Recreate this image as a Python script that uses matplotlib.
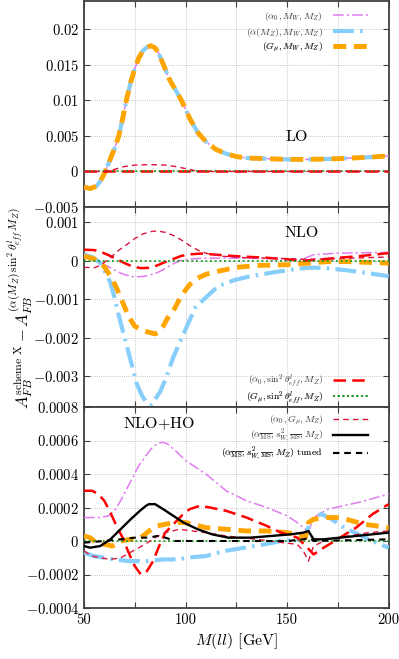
import numpy as np
import matplotlib
matplotlib.use("Agg")
import matplotlib.pyplot as plt
from matplotlib.lines import Line2D

plt.rcParams['mathtext.fontset'] = 'cm'
plt.rcParams['font.family'] = 'serif'
plt.rcParams['font.serif'] = ['cmr10', 'DejaVu Serif']
plt.rcParams['axes.formatter.use_mathtext'] = True

# ---------------- DATA ----------------
# LO panel
lo_x = [50, 53, 56, 58, 60.5, 63, 65, 67, 69, 71, 73, 75, 77, 79, 81, 83, 85, 87, 89, 92, 95, 98,
        102, 106, 110, 115, 120, 125, 130, 140, 150, 160, 175, 190, 200]
lo_alpha0_mw = [-0.0022, -0.0024, -0.0021, -0.0014, 0.0, 0.0018, 0.0032, 0.0049, 0.0074, 0.0102, 0.0126,
                0.0145, 0.0160, 0.0170, 0.0175, 0.0177, 0.0174, 0.0165, 0.0151, 0.0130, 0.0115, 0.0100,
                0.0075, 0.0055, 0.0042, 0.0031, 0.0025, 0.0021, 0.0019, 0.0018, 0.0017, 0.0017, 0.0018,
                0.0020, 0.0022]
lo_alphamz_mw = list(lo_alpha0_mw)
lo_gmu_mw = list(lo_alpha0_mw)
lo_zero_x = [50, 200]
lo_alpha0_sw = [0.0, 0.0]
lo_gmu_sw = [0.0, 0.0]
lo_a0gmu_x = [50, 60, 65, 70, 75, 80, 85, 90, 95, 100, 105, 110, 200]
lo_a0gmu = [0.0, 0.0, 0.0003, 0.0007, 0.0009, 0.00095, 0.00095, 0.0009, 0.0007, 0.0004, 0.0001, 0.0, 0.0]

# NLO panel
nlo_blue_x = [50, 54, 58, 61, 63, 65, 67, 69, 72, 74, 76, 78.5, 81, 83, 85, 87.5, 90, 92, 94, 96.5, 99,
              101.5, 105, 110, 116, 124, 132, 142, 152, 160, 168, 180, 190, 200]
nlo_alphamz_mw = [0.00016, 0.0001, -0.00005, -0.00035, -0.00057, -0.00095, -0.0014, -0.0018, -0.0024,
                  -0.0028, -0.0032, -0.0035, -0.0037, -0.00375, -0.0036, -0.0034, -0.0031, -0.0028,
                  -0.0025, -0.0022, -0.0019, -0.0016, -0.0012, -0.00095, -0.00066, -0.0005, -0.0004,
                  -0.00031, -0.00023, -0.00018, -0.00018, -0.00025, -0.00032, -0.0004]
nlo_orange_x = [50, 55, 60, 63, 66, 68, 70, 72, 75, 80, 85, 87, 89, 91, 94, 98, 102, 106, 110, 116,
                125, 135, 150, 160, 170, 180, 190, 200]
nlo_gmu_mw = [0.00012, 0.00005, -0.00015, -0.0004, -0.0007, -0.00095, -0.0012, -0.00145, -0.0017,
              -0.00183, -0.0019, -0.00185, -0.0017, -0.0015, -0.0013, -0.0009, -0.00062, -0.00045,
              -0.00035, -0.00027, -0.00017, -0.00012, -0.0001, -0.00006, -0.00002, -0.00002,
              -0.00004, -0.00006]
nlo_violet_x = [50, 55, 58, 62, 66, 70, 75, 80, 85, 89, 93, 97, 102, 110, 130, 150, 155, 158, 163, 175, 200]
nlo_alpha0_mw = [0.00012, 0.00003, -0.00005, -0.00015, -0.00027, -0.00036, -0.00042, -0.0004, -0.00033,
                 -0.00023, -0.0001, 0.0, 0.00005, 0.00007, 0.00007, 0.00005, 0.0, 0.00005, 0.00016,
                 0.0002, 0.00022]
nlo_red_x = [50, 55, 58, 62, 66, 70, 74, 78, 82, 86, 90, 94, 98, 102, 108, 115, 125, 140, 150, 157,
             165, 175, 185, 200]
nlo_alpha0_sw = [0.00029, 0.00028, 0.00024, 0.00015, 0.00005, -0.00006, -0.00015, -0.00019, -0.00018,
                 -0.00012, -0.00003, 0.00005, 0.00013, 0.00017, 0.00019, 0.00016, 0.00012, 0.00008,
                 0.00004, 0.0, 0.00003, 0.00008, 0.00012, 0.0002]
nlo_gmu_sw = [0.0, 0.0]
nlo_crim_x = [50, 55, 58, 61, 64, 67, 71, 75, 79, 83, 86, 90, 94, 98, 102, 106, 110, 118, 130, 150,
              160, 175, 200]
nlo_a0gmu = [-0.00017, -0.00018, -0.00012, 0.0, 0.00013, 0.00027, 0.00042, 0.00058, 0.0007, 0.00076,
             0.00078, 0.00074, 0.00066, 0.00054, 0.0004, 0.00028, 0.0002, 0.00012, 0.00008, 0.00006,
             0.00004, 0.00006, 0.0001]

# NLO+HO panel
ho_violet_x = [50, 55, 58, 62, 65, 68, 71, 74, 77, 80, 83, 86, 88.5, 91, 95, 100, 105, 110, 120, 130,
               140, 150, 155, 159, 161, 163, 170, 185, 200]
ho_alpha0_mw = [0.00014, 0.00014, 0.00014, 0.00015, 0.00018, 0.00024, 0.00031, 0.00038, 0.00045, 0.0005,
                0.00055, 0.00058, 0.00059, 0.00058, 0.00054, 0.00048, 0.00044, 0.0004, 0.0003, 0.00024,
                0.0002, 0.00015, 0.00011, 0.00007, 0.00007, 0.00014, 0.00019, 0.00023, 0.00028]
ho_blue_x = [50, 55, 60, 65, 72, 81, 89, 97, 100, 110, 119, 129, 139, 147, 156, 159, 161, 164, 167,
             172, 178, 185, 192, 200]
ho_alphamz_mw = [-0.00007, -0.00009, -0.0001, -0.00011, -0.00012, -0.00012, -0.00011, -0.00011, -0.0001,
                 -0.00009, -0.00006, -0.00004, -0.00002, 0.0, 0.00001, 0.00003, 0.0001, 0.00015,
                 0.00016, 0.00013, 0.00008, 0.00004, 0.0, -0.00004]
ho_orange_x = [50, 53, 56, 60, 64, 68, 73, 78, 82, 86, 90, 95, 100, 110, 120, 130, 140, 150, 155, 159,
               160.5, 163, 170, 176, 182, 188, 194, 200]
ho_gmu_mw = [0.00003, 0.00002, -0.00001, -0.00002, -0.00003, 0.0, 0.00001, 0.00002, 0.00006, 0.00009,
             0.0001, 0.00011, 0.00011, 0.00008, 0.00007, 0.00006, 0.00006, 0.00005, 0.00004, 0.00002,
             0.00011, 0.00013, 0.00014, 0.00014, 0.00012, 0.0001, 0.00009, 0.00008]
ho_red_x = [50, 54, 57, 60, 63, 66, 69, 72, 75, 78, 81, 84, 87, 90, 94, 98, 102, 107, 112, 120, 130,
            140, 147, 155, 160, 163, 168, 176, 184, 192, 200]
ho_alpha0_sw = [0.0003, 0.0003, 0.00028, 0.00024, 0.00017, 0.00009, 0.00002, -0.00007, -0.00015, -0.0002,
                -0.00018, -0.00012, -0.00003, 0.00005, 0.0001, 0.00015, 0.00019, 0.00021, 0.0002,
                0.00018, 0.00014, 0.00009, 0.00005, 0.00002, -0.00004, -0.00008, -0.00004, 0.00002,
                0.00008, 0.00016, 0.00022]
ho_gmu_sw = [0.0, 0.0]
ho_crim_x = [50, 54, 58, 63, 68, 74, 80, 85, 90, 97, 103, 110, 120, 135, 148, 155, 158, 160.5, 163,
             170, 180, 190, 200]
ho_a0gmu = [-0.00006, -0.00009, -0.0001, -0.00011, -0.0001, -0.00006, -0.00002, 0.00002, 0.00005,
            0.00007, 0.00006, 0.00005, 0.00003, 0.00001, -0.00001, -0.00002, -0.00006, -0.00012,
            -0.00003, 0.00001, 0.00003, 0.00005, 0.00006]
ho_ms_x = [50, 53, 58, 63, 68, 73, 77.5, 80.5, 82, 85, 89, 94, 99, 106, 113, 121, 132, 142, 152, 158,
           160.5, 163, 168, 176, 184, 200]
ho_msbar = [-0.00003, -0.00004, -0.00003, 0.00001, 0.00007, 0.00013, 0.00018, 0.00021, 0.00022, 0.00022,
            0.00019, 0.00015, 0.00011, 0.00007, 0.00004, 0.00002, 0.00002, 0.00003, 0.00004, 0.00005,
            0.00006, 0.00001, 0.00001, 0.00002, 0.00003, 0.00005]
ho_tuned_x = [50, 60, 68, 75, 82, 86, 90, 95, 120, 150, 158, 161, 163, 200]
ho_msbar_tuned = [-0.00001, 0.0, 0.00001, 0.00002, 0.00002, 0.00003, 0.00002, 0.0, 0.0, 0.0, 0.00001,
                  0.00002, 0.0, 0.00001]

x_ticks = [50, 75, 100, 125, 150, 175, 200]
x_ticklabels = ['50', '', '100', '', '150', '', '200']
lo_yticks = [-0.005, 0, 0.005, 0.01, 0.015, 0.02]
lo_yticklabels = ['$-0.005$', '$0$', '$0.005$', '$0.01$', '$0.015$', '$0.02$']
nlo_yticks = [-0.003, -0.002, -0.001, 0, 0.001]
nlo_yticklabels = ['$-0.003$', '$-0.002$', '$-0.001$', '$0$', '$0.001$']
ho_yticks = [-0.0004, -0.0002, 0, 0.0002, 0.0004, 0.0006, 0.0008]
ho_yticklabels = ['$-0.0004$', '$-0.0002$', '$0$', '$0.0002$', '$0.0004$', '$0.0006$', '$0.0008$']

lab_a0mw = r'$(\alpha_0, M_W, M_Z)$'
lab_amzmw = r'$(\alpha(M_Z), M_W, M_Z)$'
lab_gmumw = r'$(G_\mu, M_W, M_Z)$'
lab_a0sw = r'$(\alpha_0, \sin^2\theta^l_{eff}, M_Z)$'
lab_gmusw = r'$(G_\mu, \sin^2\theta^l_{eff}, M_Z)$'
lab_a0gmu = r'$(\alpha_0, G_\mu, M_Z)$'
lab_ms = r'$(\alpha_{\overline{\rm MS}}, s^2_{W,\overline{\rm MS}}, M_Z)$'
lab_tuned = r'$(\alpha_{\overline{\rm MS}}, s^2_{W,\overline{\rm MS}}, M_Z)$ tuned'

# ---------------- STYLES ----------------
st_violet = dict(color='#e07cf0', lw=1.1, dashes=(7, 2, 1.5, 2))
st_blue = dict(color='#87cefa', lw=3.0, dashes=(5, 1.5, 0.6, 1.5))
st_orange = dict(color='#ffa500', lw=3.5, dashes=(2.6, 1.6))
st_red = dict(color='#ff0000', lw=1.8, dashes=(5, 2.5))
st_green = dict(color='#1a9a1a', lw=1.2, dashes=(1.2, 1.6))
st_crim = dict(color='#dc143c', lw=1.0, dashes=(4, 3))
st_black = dict(color='black', lw=1.7)
st_bdash = dict(color='black', lw=1.5, dashes=(3, 2.5))
z = dict(violet=3, blue=4, orange=5, red=6, green=6, crim=6, black=7, bdash=7)

fig = plt.figure(figsize=(3.99, 6.59), dpi=100)
L, W = 84 / 399, (388.7 - 84) / 399
ax1 = fig.add_axes([L, 1 - 207 / 659, W, 206 / 659])
ax2 = fig.add_axes([L, 1 - 407 / 659, W, 200 / 659])
ax3 = fig.add_axes([L, 1 - 608 / 659, W, 201 / 659])

for ax in (ax1, ax2, ax3):
    ax.set_xlim(50, 200)
    ax.set_xticks(x_ticks)
    ax.grid(True, color='#b8b8b8', lw=0.6, ls=(0, (1, 1.5)))
    ax.tick_params(direction='in', top=True, right=True, length=4, width=0.8, colors='#404040',
                   labelcolor='black', labelsize=10.5)
    for s in ax.spines.values():
        s.set_color('#404040')
        s.set_linewidth(1.3)
    ax.set_axisbelow(True)

# LO
ax1.plot(lo_x, lo_alpha0_mw, zorder=z['violet'], **st_violet)
ax1.plot(lo_x, lo_alphamz_mw, zorder=z['blue'], **st_blue)
ax1.plot(lo_x, lo_gmu_mw, zorder=z['orange'], **st_orange)
ax1.plot(lo_zero_x, lo_alpha0_sw, zorder=z['red'], **st_red)
ax1.plot(lo_zero_x, lo_gmu_sw, zorder=z['green'], **st_green)
ax1.plot(lo_a0gmu_x, lo_a0gmu, zorder=z['crim'], **st_crim)
ax1.set_ylim(-0.005, 0.024)
ax1.set_yticks(lo_yticks)
ax1.set_yticklabels(lo_yticklabels)
ax1.set_xticklabels([])
ax1.text(0.698, 0.34, 'LO', transform=ax1.transAxes, ha='center', va='center', fontsize=11.5)

# NLO
ax2.plot(nlo_violet_x, nlo_alpha0_mw, zorder=z['violet'], **st_violet)
ax2.plot(nlo_blue_x, nlo_alphamz_mw, zorder=z['blue'], **st_blue)
ax2.plot(nlo_orange_x, nlo_gmu_mw, zorder=z['orange'], **st_orange)
ax2.plot(nlo_red_x, nlo_alpha0_sw, zorder=z['red'], **st_red)
ax2.plot(lo_zero_x, nlo_gmu_sw, zorder=z['green'], **st_green)
ax2.plot(nlo_crim_x, nlo_a0gmu, zorder=z['crim'], **st_crim)
ax2.set_ylim(-0.0038, 0.0014)
ax2.set_yticks(nlo_yticks)
ax2.set_yticklabels(nlo_yticklabels)
ax2.set_xticklabels([])
ax2.text(0.714, 0.868, 'NLO', transform=ax2.transAxes, ha='center', va='center', fontsize=11.5)

# NLO+HO
ax3.plot(ho_violet_x, ho_alpha0_mw, zorder=z['violet'], **st_violet)
ax3.plot(ho_blue_x, ho_alphamz_mw, zorder=z['blue'], **st_blue)
ax3.plot(ho_orange_x, ho_gmu_mw, zorder=z['orange'], **st_orange)
ax3.plot(ho_red_x, ho_alpha0_sw, zorder=z['red'], **st_red)
ax3.plot(lo_zero_x, ho_gmu_sw, zorder=z['green'], **st_green)
ax3.plot(ho_crim_x, ho_a0gmu, zorder=z['crim'], **st_crim)
ax3.plot(ho_ms_x, ho_msbar, zorder=z['black'], **st_black)
ax3.plot(ho_tuned_x, ho_msbar_tuned, zorder=z['bdash'], **st_bdash)
ax3.set_ylim(-0.0004, 0.0008)
ax3.set_yticks(ho_yticks)
ax3.set_yticklabels(ho_yticklabels)
ax3.set_xticklabels(x_ticklabels)
ax3.text(0.246, 0.915, r'NLO$+$HO', transform=ax3.transAxes, ha='center', va='center', fontsize=11.5)
ax3.set_xlabel(r'$M(ll)$ [GeV]', fontsize=11.5, labelpad=3)

# legends: one row per entry, stacked
leg_kw = dict(loc='center right', markerfirst=False, frameon=False, fontsize=7.0, handlelength=3.6,
              handletextpad=1.0, borderpad=0, borderaxespad=0, labelcolor='#3a3a3a')


def add_rows(ax, entries, x_right, ys):
    for (lab, st), y in zip(entries, ys):
        h = Line2D([], [], **st)
        leg = ax.legend(handles=[h], labels=[lab], bbox_to_anchor=(x_right, y), **leg_kw)
        leg.set_zorder(10)
        ax.add_artist(leg)


add_rows(ax1, [(lab_a0mw, st_violet), (lab_amzmw, st_blue), (lab_gmumw, st_orange)],
         0.932, [0.927, 0.848, 0.775])
add_rows(ax2, [(lab_a0sw, st_red), (lab_gmusw, st_green)], 0.932, [0.130, 0.046])
add_rows(ax3, [(lab_a0gmu, st_crim), (lab_ms, st_black), (lab_tuned, st_bdash)],
         0.932, [0.935, 0.856, 0.766])

fig.text(0.05, 0.533,
         r'$A_{FB}^{\rm scheme\ X} - A_{FB}^{(\alpha(M_Z)\,\sin^2\theta^l_{eff}\,M_Z)}$',
         rotation=90, ha='center', va='center', fontsize=12)

fig.savefig('out.png', dpi=100)
